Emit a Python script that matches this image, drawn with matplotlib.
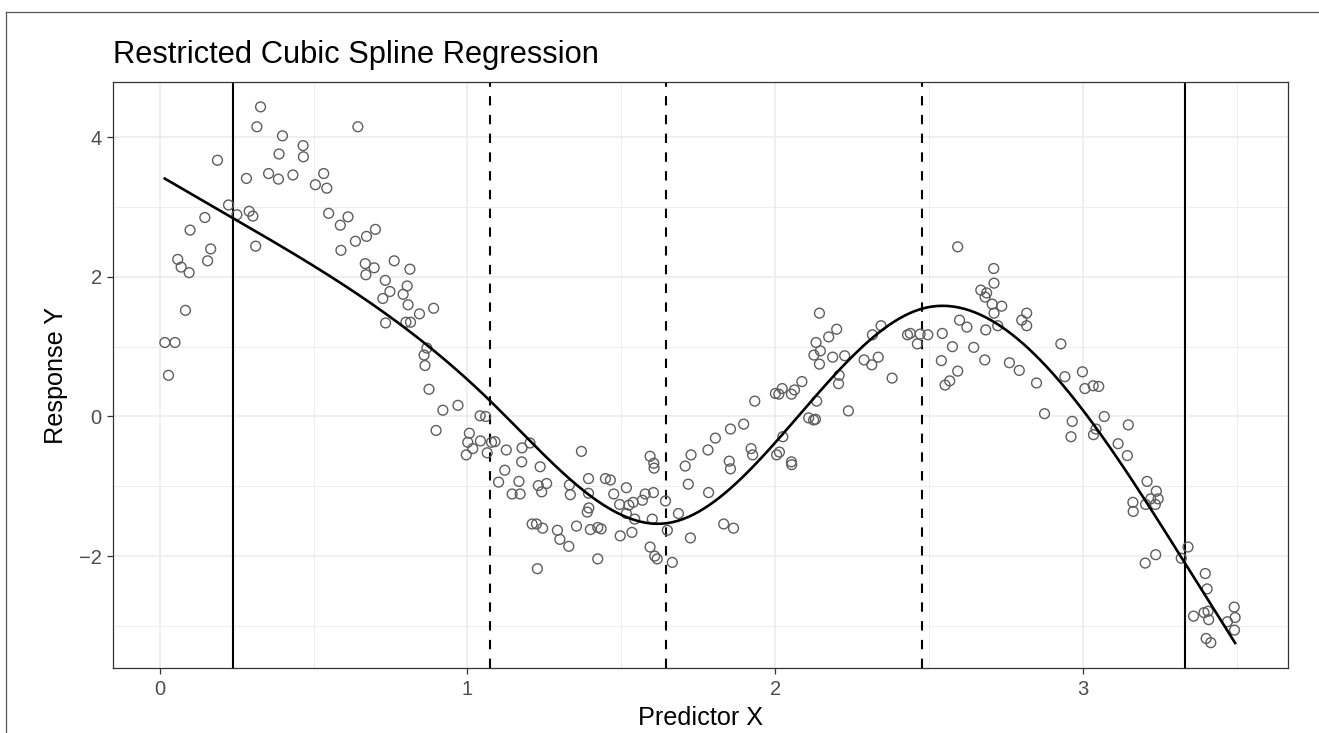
import numpy as np
import matplotlib
matplotlib.use("Agg")
import matplotlib.pyplot as plt
from matplotlib.lines import Line2D

plt.rcParams['font.family'] = ['Liberation Sans', 'DejaVu Sans']

# observations, left part (x < 0.85)
x_left = [0.017, 0.050, 0.029, 0.059, 0.070, 0.096, 0.084, 0.099, 0.147, 0.156,
          0.166, 0.188, 0.224, 0.251, 0.282, 0.291, 0.303, 0.312, 0.316, 0.328,
          0.354, 0.386, 0.388, 0.399, 0.433, 0.466, 0.467, 0.506, 0.533, 0.543,
          0.549, 0.587, 0.589, 0.612, 0.636, 0.644, 0.668, 0.670, 0.672, 0.697,
          0.701, 0.725, 0.733, 0.734, 0.748, 0.762, 0.791, 0.800, 0.804, 0.807,
          0.813, 0.815]
y_left = [1.06, 1.06, 0.59, 2.25, 2.14, 2.06, 1.52, 2.67, 2.85, 2.23,
          2.40, 3.67, 3.03, 2.89, 3.41, 2.94, 2.87, 2.44, 4.15, 4.435,
          3.48, 3.40, 3.76, 4.02, 3.46, 3.88, 3.72, 3.32, 3.48, 3.27,
          2.91, 2.74, 2.38, 2.86, 2.51, 4.15, 2.19, 2.03, 2.58, 2.13,
          2.68, 1.69, 1.95, 1.34, 1.79, 2.23, 1.75, 1.35, 1.87, 1.60,
          2.11, 1.35]

# observations, the dip (0.84 < x < 1.75)
x_mid = [0.844, 0.890, 0.868, 0.859, 0.862, 0.875, 0.920, 0.969, 0.898,
         1.041, 1.059, 1.006, 1.001, 1.042, 1.017, 0.996, 1.064,
         1.078, 1.089, 1.126, 1.203, 1.177, 1.176, 1.121, 1.236,
         1.101, 1.167, 1.145, 1.171, 1.230, 1.257, 1.241,
         1.210, 1.224, 1.244, 1.292, 1.300, 1.329, 1.227,
         1.370, 1.331, 1.334, 1.393, 1.393, 1.394, 1.389, 1.354, 1.399,
         1.423, 1.434, 1.423, 1.448, 1.464, 1.475, 1.494, 1.516,
         1.524, 1.538, 1.516, 1.543, 1.496, 1.534, 1.568, 1.577, 1.604,
         1.593, 1.605, 1.606, 1.600, 1.593, 1.608, 1.616,
         1.643, 1.649, 1.665, 1.685, 1.707, 1.726, 1.717, 1.724]
y_mid = [1.47, 1.55, 0.98, 0.88, 0.73, 0.39, 0.09, 0.16, -0.20,
         0.01, 0.00, -0.24, -0.37, -0.35, -0.46, -0.55, -0.52,
         -0.37, -0.36, -0.48, -0.38, -0.45, -0.65, -0.77, -0.72,
         -0.94, -0.93, -1.11, -1.11, -0.99, -0.96, -1.08,
         -1.54, -1.54, -1.60, -1.63, -1.76, -1.86, -2.18,
         -0.50, -0.98, -1.12, -0.89, -1.10, -1.31, -1.37, -1.57, -1.62,
         -1.59, -1.61, -2.04, -0.89, -0.91, -1.11, -1.26, -1.02,
         -1.27, -1.23, -1.39, -1.47, -1.71, -1.66, -1.20, -1.11, -1.09,
         -0.57, -0.67, -0.74, -1.47, -1.87, -2.00, -2.04,
         -1.21, -1.63, -2.09, -1.39, -0.71, -0.55, -0.97, -1.74]

# observations, the rise to the peak (1.75 < x < 2.82)
x_rise = [1.783, 1.781, 1.805, 1.854, 1.897, 1.850, 1.854, 1.832, 1.864,
          1.921, 1.926, 1.933, 2.000, 2.011, 2.022, 2.052, 2.062, 2.086,
          2.024, 2.004, 2.013, 2.052, 2.053, 2.108, 2.124, 2.130, 2.134,
          2.143, 2.132, 2.146, 2.125, 2.143, 2.173, 2.199, 2.186, 2.225,
          2.207, 2.205, 2.237, 2.288, 2.313, 2.334, 2.315, 2.343, 2.379,
          2.429, 2.438, 2.470, 2.461, 2.495, 2.542, 2.575, 2.539, 2.592,
          2.566, 2.551, 2.598, 2.622, 2.644, 2.592, 2.667, 2.681, 2.686,
          2.683, 2.680, 2.709, 2.710, 2.704, 2.735, 2.710, 2.722, 2.800,
          2.816, 2.816]
y_rise = [-1.09, -0.48, -0.31, -0.18, -0.11, -0.64, -0.75, -1.54, -1.60,
          -0.46, -0.55, 0.22, 0.33, 0.32, 0.40, 0.32, 0.38, 0.50,
          -0.29, -0.55, -0.51, -0.65, -0.69, -0.02, -0.05, -0.04, 0.22,
          1.48, 1.06, 0.94, 0.88, 0.75, 1.14, 1.25, 0.85, 0.87,
          0.59, 0.47, 0.08, 0.81, 0.74, 0.85, 1.17, 1.30, 0.55,
          1.17, 1.19, 1.18, 1.04, 1.17, 1.19, 1.00, 0.80, 0.65,
          0.51, 0.45, 1.38, 1.28, 0.99, 2.43, 1.81, 1.71, 1.77,
          1.24, 0.81, 2.12, 1.91, 1.61, 1.58, 1.48, 1.30, 1.38,
          1.48, 1.30]

# observations, the fall (x > 2.75)
x_fall = [2.760, 2.792, 2.848, 2.874, 2.927, 2.940, 2.997, 3.005, 3.032, 3.050,
          2.964, 2.960, 3.041, 3.033, 3.068, 3.146, 3.113, 3.143,
          3.207, 3.237, 3.243, 3.219, 3.202, 3.234, 3.161, 3.162,
          3.201, 3.235, 3.340, 3.318, 3.396, 3.402,
          3.358, 3.392, 3.405, 3.407, 3.490, 3.493, 3.468, 3.491, 3.399, 3.414]
y_fall = [0.77, 0.66, 0.48, 0.04, 1.04, 0.57, 0.64, 0.40, 0.44, 0.43,
          -0.07, -0.29, -0.18, -0.26, 0.00, -0.12, -0.39, -0.56,
          -0.93, -1.07, -1.18, -1.18, -1.26, -1.26, -1.23, -1.36,
          -2.10, -1.98, -1.87, -2.03, -2.25, -2.47,
          -2.86, -2.81, -2.79, -2.91, -2.73, -2.88, -2.94, -3.06, -3.18, -3.24]

# spline knots: outer ones solid, inner ones dashed
knots = [0.237, 1.073, 1.646, 2.475, 3.331]

x = np.array(x_left + x_mid + x_rise + x_fall)
y = np.array(y_left + y_mid + y_rise + y_fall)


def rcs_basis(v, t):
    # Harrell's restricted cubic spline basis (linear beyond outer knots)
    v = np.asarray(v, dtype=float)
    k = len(t)
    cols = [np.ones_like(v), v]
    p = lambda u: np.clip(u, 0, None) ** 3
    for j in range(k - 2):
        term = (p(v - t[j])
                - p(v - t[k - 2]) * (t[k - 1] - t[j]) / (t[k - 1] - t[k - 2])
                + p(v - t[k - 1]) * (t[k - 2] - t[j]) / (t[k - 1] - t[k - 2]))
        cols.append(term / (t[k - 1] - t[0]) ** 2)
    return np.column_stack(cols)


coef, *_ = np.linalg.lstsq(rcs_basis(x, knots), y, rcond=None)
xs = np.linspace(x.min(), x.max(), 400)
ys = rcs_basis(xs, knots) @ coef

fig = plt.figure(figsize=(13.19, 7.33), dpi=100)
ax = fig.add_axes([0.0855, 0.088, 0.8913, 0.800])

ax.scatter(x, y, s=50, facecolors='none', edgecolors='#5E5E5E',
           linewidths=1.0, zorder=3)
ax.plot(xs, ys, color='black', lw=1.9, zorder=4)

for i, k in enumerate(knots):
    if i in (0, len(knots) - 1):
        ax.axvline(k, color='black', lw=1.5, zorder=2)
    else:
        ax.axvline(k, color='black', lw=1.5, ls=(0, (4.5, 4.5)), zorder=2)

ax.set_xlim(-0.152, 3.666)
ax.set_ylim(-3.61, 4.79)
ax.set_xticks([0, 1, 2, 3])
ax.set_xticks([0.5, 1.5, 2.5, 3.5], minor=True)
ax.set_yticks([-2, 0, 2, 4])
ax.set_yticks([-3, -1, 1, 3], minor=True)

ax.grid(which='major', color='#EBEBEB', lw=1.1)
ax.grid(which='minor', color='#EBEBEB', lw=0.6)
ax.set_axisbelow(True)
for s in ax.spines.values():
    s.set_color('#333333')
    s.set_linewidth(0.9)

ax.tick_params(which='major', length=4.5, width=0.9, color='#333333',
               labelsize=14.5, labelcolor='#4D4D4D', pad=3.5)
ax.tick_params(which='minor', length=0)

ax.set_xlabel('Predictor X', fontsize=18.2, labelpad=5)
ax.set_ylabel('Response Y', fontsize=18.2, labelpad=8)
ax.set_title('Restricted Cubic Spline Regression', fontsize=22.2,
             loc='left', pad=14)

# frame lines along the left and top of the figure
fig.add_artist(Line2D([6 / 1319, 6 / 1319], [0, 1 - 12 / 733],
                      color='#555555', lw=0.9))
fig.add_artist(Line2D([6 / 1319, 1], [1 - 12 / 733, 1 - 12 / 733],
                      color='#555555', lw=0.9))

fig.savefig('out.png', dpi=100)
